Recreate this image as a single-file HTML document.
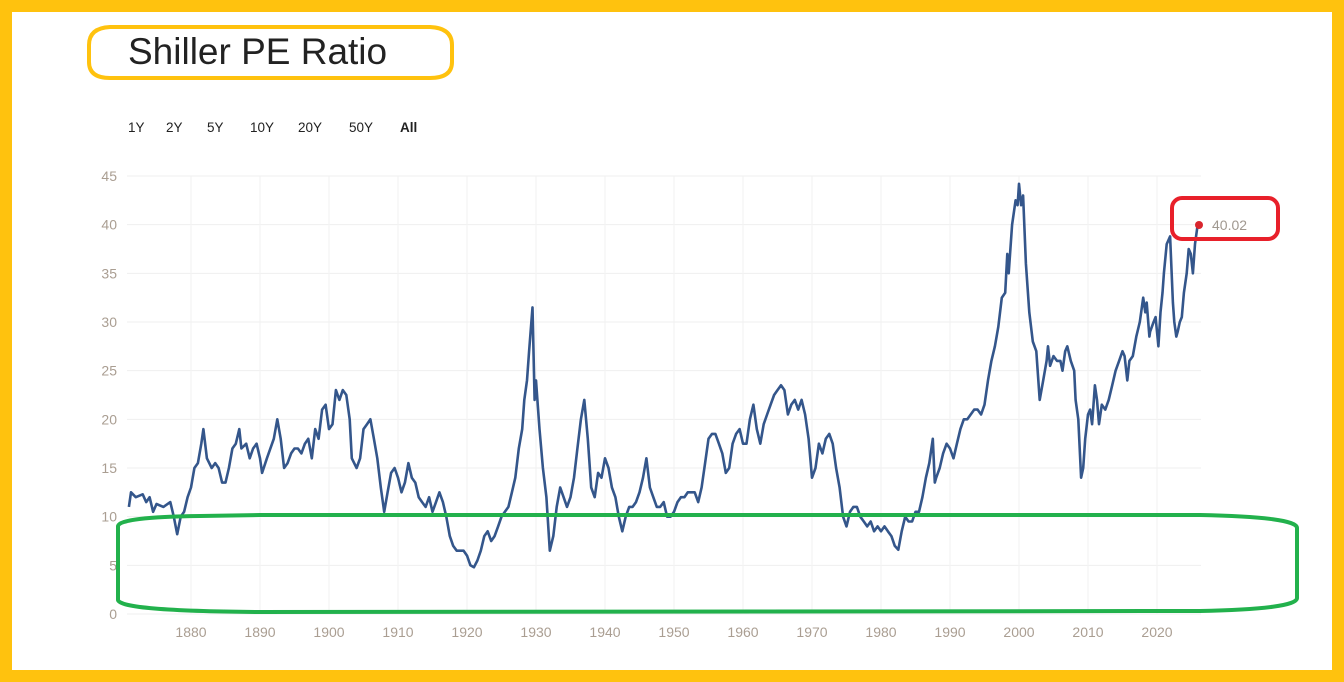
<!DOCTYPE html>
<html><head><meta charset="utf-8"><style>
html,body{margin:0;padding:0;}
body{width:1344px;height:682px;overflow:hidden;background:#FFC20E;position:relative;font-family:"Liberation Sans",sans-serif;}
#inner{position:absolute;left:12px;top:12px;width:1320px;height:658px;background:#fff;}
svg{position:absolute;left:0;top:0;}
</style></head><body>
<div id="inner"></div>
<svg id="s" width="1344" height="682" xmlns="http://www.w3.org/2000/svg">
<text x="128" y="64" font-family="Liberation Sans, sans-serif" font-size="37" fill="#222">Shiller PE Ratio</text>
<g font-family="Liberation Sans, sans-serif" font-size="13.5" fill="#222">
<text x="128" y="132">1Y</text><text x="166" y="132">2Y</text><text x="207" y="132">5Y</text>
<text x="250" y="132">10Y</text><text x="298" y="132">20Y</text><text x="349" y="132">50Y</text>
<text x="400" y="132" font-weight="bold">All</text></g>
<g id="grid"></g>
<polyline id="line" fill="none" stroke="#34568B" stroke-width="2.6" stroke-linejoin="round"/>
<circle cx="1199" cy="225" r="4" fill="#D9262E"/>
<text x="1212" y="230" font-family="Liberation Sans, sans-serif" font-size="14" fill="#a09890">40.02</text>
<path d="M110,27 L430,27 Q452,28 452,45 L452,62 Q452,78 430,78 L110,78 Q89,78 89,62 L89,45 Q89,28 110,27 Z" fill="none" stroke="#FFC20E" stroke-width="4"/>
<rect x="1172" y="198" width="106" height="41" rx="10" fill="none" stroke="#E8202A" stroke-width="4"/>
<path d="M118,526 Q120,517 200,516 L260,515 L1200,515 Q1297,517 1297,528 L1297,598 Q1297,609 1200,611 L260,612 Q120,611 118,600 Z" fill="none" stroke="#22B14C" stroke-width="4"/>
</svg>
<script>
var X=function(y){return 191+(y-1880)*6.9;},Y=function(v){return 614-v*9.733;};
var g=document.getElementById('grid'),h='';
for(var v=0;v<=45;v+=5){h+='<line x1="127" x2="1201" y1="'+Y(v)+'" y2="'+Y(v)+'" stroke="#efefef" stroke-width="1"/>';
h+='<text x="117" y="'+(Y(v)+5)+'" text-anchor="end" font-family="Liberation Sans, sans-serif" font-size="14" fill="#aa9e92">'+v+'</text>';}
for(var yr=1880;yr<=2020;yr+=10){h+='<line y1="176" y2="614" x1="'+X(yr)+'" x2="'+X(yr)+'" stroke="#f2f2f2" stroke-width="1"/>';
h+='<text x="'+X(yr)+'" y="637" text-anchor="middle" font-family="Liberation Sans, sans-serif" font-size="14" fill="#aa9e92">'+yr+'</text>';}
g.innerHTML=h;
var d=[1871,11,1871.3,12.5,1872,12,1873,12.3,1873.5,11.5,1874,12,1874.5,10.5,1875,11.3,1876,11,1877,11.5,1877.5,10,1878,8.2,1878.5,10,1879,10.5,1879.5,12,1880,13,1880.5,15,1881,15.5,1881.5,17.5,1881.8,19,1882.3,16,1883,15,1883.5,15.5,1884,15,1884.5,13.5,1885,13.5,1885.5,15,1886,17,1886.5,17.5,1887,19,1887.3,17,1888,17.5,1888.5,16,1889,17,1889.5,17.5,1890,16,1890.3,14.5,1891,16,1892,18,1892.5,20,1893,18,1893.5,15,1894,15.5,1894.5,16.5,1895,17,1895.5,17,1896,16.5,1896.5,17.5,1897,18,1897.5,16,1898,19,1898.5,18,1899,21,1899.5,21.5,1900,19,1900.5,19.5,1901,23,1901.5,22,1902,23,1902.5,22.5,1903,20,1903.3,16,1904,15,1904.5,16,1905,19,1905.5,19.5,1906,20,1906.5,18,1907,16,1907.5,13,1908,10.5,1908.5,12.5,1909,14.5,1909.5,15,1910,14,1910.5,12.5,1911,13.5,1911.5,15.5,1912,14,1912.5,13.5,1913,12,1913.5,11.5,1914,11,1914.5,12,1915,10.5,1915.5,11.5,1916,12.5,1916.5,11.5,1917,10,1917.5,8,1918,7,1918.5,6.5,1919,6.5,1919.5,6.5,1920,6,1920.5,5,1921,4.8,1921.5,5.5,1922,6.5,1922.5,8,1923,8.5,1923.5,7.5,1924,8,1924.5,9,1925,10,1925.5,10.5,1926,11,1926.5,12.5,1927,14,1927.5,17,1928,19,1928.3,22,1928.7,24,1929,27,1929.5,31.5,1929.8,22,1930,24,1930.5,19,1931,15,1931.5,12,1932,6.5,1932.5,8,1933,11,1933.5,13,1934,12,1934.5,11,1935,12,1935.5,14,1936,17,1936.5,20,1937,22,1937.5,18,1938,13,1938.5,12,1939,14.5,1939.5,14,1940,16,1940.5,15,1941,13,1941.5,12,1942,10,1942.5,8.5,1943,10,1943.5,11,1944,11,1944.5,11.5,1945,12.5,1945.5,14,1946,16,1946.5,13,1947,12,1947.5,11,1948,11,1948.5,11.5,1949,10,1949.5,10,1950,10.5,1950.5,11.5,1951,12,1951.5,12,1952,12.5,1952.5,12.5,1953,12.5,1953.5,11.5,1954,13,1954.5,15.5,1955,18,1955.5,18.5,1956,18.5,1956.5,17.5,1957,16.5,1957.5,14.5,1958,15,1958.5,17.5,1959,18.5,1959.5,19,1960,17.5,1960.5,17.5,1961,20,1961.5,21.5,1962,19,1962.5,17.5,1963,19.5,1963.5,20.5,1964,21.5,1964.5,22.5,1965,23,1965.5,23.5,1966,23,1966.5,20.5,1967,21.5,1967.5,22,1968,21,1968.5,22,1969,20.5,1969.5,18,1970,14,1970.5,15,1971,17.5,1971.5,16.5,1972,18,1972.5,18.5,1973,17.5,1973.5,15,1974,13,1974.5,10,1975,9,1975.5,10.5,1976,11,1976.5,11,1977,10,1977.5,9.5,1978,9,1978.5,9.5,1979,8.5,1979.5,9,1980,8.5,1980.5,9,1981,8.5,1981.5,8,1982,7,1982.5,6.6,1983,8.5,1983.5,10,1984,9.5,1984.5,9.5,1985,10.5,1985.5,10.5,1986,12,1986.5,14,1987,15.5,1987.5,18,1987.8,13.5,1988,14,1988.5,15,1989,16.5,1989.5,17.5,1990,17,1990.5,16,1991,17.5,1991.5,19,1992,20,1992.5,20,1993,20.5,1993.5,21,1994,21,1994.5,20.5,1995,21.5,1995.5,24,1996,26,1996.5,27.5,1997,29.5,1997.5,32.5,1998,33,1998.3,37,1998.5,35,1999,40,1999.5,42.5,1999.8,42,2000,44.2,2000.3,42,2000.6,43,2001,36,2001.5,31,2002,28,2002.5,27,2003,22,2003.5,24,2004,26,2004.2,27.5,2004.5,25.5,2005,26.5,2005.5,26,2006,26,2006.3,25,2006.7,27,2007,27.5,2007.5,26,2008,25,2008.2,22,2008.6,20,2009,14,2009.3,15,2009.6,18,2010,20.5,2010.3,21,2010.6,19.5,2011,23.5,2011.3,22,2011.6,19.5,2012,21.5,2012.5,21,2013,22,2013.5,23.5,2014,25,2014.5,26,2015,27,2015.3,26.5,2015.7,24,2016,26,2016.5,26.5,2017,28.5,2017.5,30,2018,32.5,2018.3,31,2018.5,32,2018.9,28.5,2019,29,2019.5,30,2019.8,30.5,2020.2,27.5,2020.5,31,2020.8,33,2021,35,2021.4,38,2021.9,38.8,2022.3,32,2022.5,30,2022.8,28.5,2023,29,2023.3,30,2023.6,30.5,2023.9,33,2024.3,35,2024.6,37.5,2024.9,37,2025.2,35,2025.5,38,2025.9,40.02];
var p=[];for(var i=0;i<d.length;i+=2)p.push(X(d[i]).toFixed(1)+','+Y(d[i+1]).toFixed(1));
document.getElementById('line').setAttribute('points',p.join(' '));
</script>
</body></html>
